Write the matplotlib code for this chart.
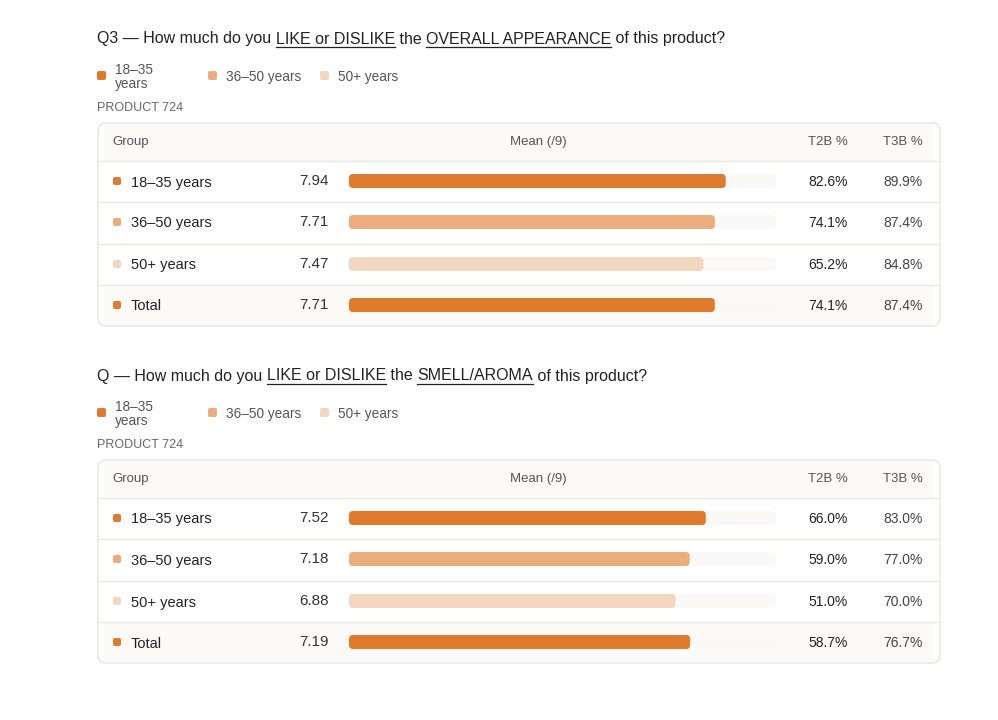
import matplotlib.pyplot as plt
from matplotlib.patches import FancyBboxPatch, Rectangle

plt.rcParams['font.family'] = ['Liberation Sans', 'DejaVu Sans']

groups = ["18–35 years", "36–50 years", "50+ years", "Total"]
colors = ["#e07b2e", "#ebad7c", "#f3d6be", "#e07b2e"]
legend_labels = ["18–35\nyears", "36–50 years", "50+ years"]

titles = [
    [("Q3 — How much do you ", False), ("LIKE or DISLIKE", True), (" the ", False),
     ("OVERALL APPEARANCE", True), (" of this product?", False)],
    [("Q — How much do you ", False), ("LIKE or DISLIKE", True), (" the ", False),
     ("SMELL/AROMA", True), (" of this product?", False)],
]
means = [[7.94, 7.71, 7.47, 7.71], [7.52, 7.18, 6.88, 7.19]]
t2b = [[82.6, 74.1, 65.2, 74.1], [66.0, 59.0, 51.0, 58.7]]
t3b = [[89.9, 87.4, 84.8, 87.4], [83.0, 77.0, 70.0, 76.7]]
product = "PRODUCT 724"
max_mean = 9

fig = plt.figure(figsize=(9.98, 7.2), dpi=100)
ax = fig.add_axes([0, 0, 1, 1])
ax.set_xlim(0, 998)
ax.set_ylim(720, 0)
ax.axis('off')
fig.canvas.draw()
renderer = fig.canvas.get_renderer()

track_x0, track_w, bar_h = 349, 427, 14

def draw_title(parts, x, y):
    inv = ax.transData.inverted()
    for txt, ul in parts:
        t = ax.text(x, y, txt, fontsize=11.5, color="#222222", va='center', ha='left')
        bb = t.get_window_extent(renderer)
        (x0, _), (x1, _) = inv.transform([(bb.x0, bb.y0), (bb.x1, bb.y1)])
        if ul:
            ax.plot([x0, x1], [y + 8, y + 8], color="#222222", lw=0.9)
        x = x1

for p in range(2):
    off = p * 337
    draw_title(titles[p], 97, 39 + off)
    # legend
    for lx, lab, c in zip([97, 208, 320], legend_labels, colors):
        ax.add_patch(FancyBboxPatch((lx, 71 + off), 9, 9, boxstyle="round,pad=0,rounding_size=2",
                                    fc=c, ec='none'))
        ax.text(lx + 18, 77 + off, lab, fontsize=9.8, color="#555555", va='center',
                linespacing=0.95)
    ax.text(97, 108 + off, product, fontsize=9, color="#666666", va='center')
    # table box
    top, bottom = 123 + off, 326 + off
    ax.add_patch(FancyBboxPatch((98, top), 842, bottom - top, boxstyle="round,pad=0,rounding_size=8",
                                fc="white", ec="#e6e4de", lw=1, zorder=1))
    ax.add_patch(Rectangle((104, top + 1), 830, 37, fc="#fbfaf6", ec='none', zorder=1.1))
    ax.add_patch(Rectangle((104, 286 + off), 830, 39, fc="#fbfaf6", ec='none', zorder=1.1))
    for sy in [161, 202, 244, 285]:
        ax.plot([98, 940], [sy + off, sy + off], color="#e9e7e1", lw=1, zorder=1.2)
    ax.text(112, 142 + off, "Group", fontsize=9.5, color="#555555", va='center')
    ax.text(538, 142 + off, "Mean (/9)", fontsize=9.5, color="#555555", va='center', ha='center')
    ax.text(828, 142 + off, "T2B %", fontsize=9.5, color="#555555", va='center', ha='center')
    ax.text(903, 142 + off, "T3B %", fontsize=9.5, color="#555555", va='center', ha='center')
    for i, (g, c) in enumerate(zip(groups, colors)):
        ry = [181, 222, 264, 305][i] + off
        ax.add_patch(FancyBboxPatch((113, ry - 4), 8, 8, boxstyle="round,pad=0,rounding_size=2",
                                    fc=c, ec='none', zorder=2))
        ax.text(131, ry + 1.5, g, fontsize=10.5, color="#222222", va='center', zorder=2)
        ax.text(329, ry, f"{means[p][i]:.2f}", fontsize=11, color="#333333",
                va='center', ha='right', zorder=2)
        ax.add_patch(FancyBboxPatch((track_x0, ry - bar_h / 2), track_w, bar_h,
                                    boxstyle="round,pad=0,rounding_size=4",
                                    fc="#faf9f6", ec='none', zorder=2))
        ax.add_patch(FancyBboxPatch((track_x0, ry - bar_h / 2), means[p][i] / max_mean * track_w, bar_h,
                                    boxstyle="round,pad=0,rounding_size=4",
                                    fc=c, ec='none', zorder=3))
        ax.text(848, ry + 1, f"{t2b[p][i]:.1f}%", fontsize=10, color="#222222",
                va='center', ha='right', zorder=2)
        ax.text(923, ry + 1, f"{t3b[p][i]:.1f}%", fontsize=10, color="#444444",
                va='center', ha='right', zorder=2)

fig.savefig("out.png", dpi=100)
